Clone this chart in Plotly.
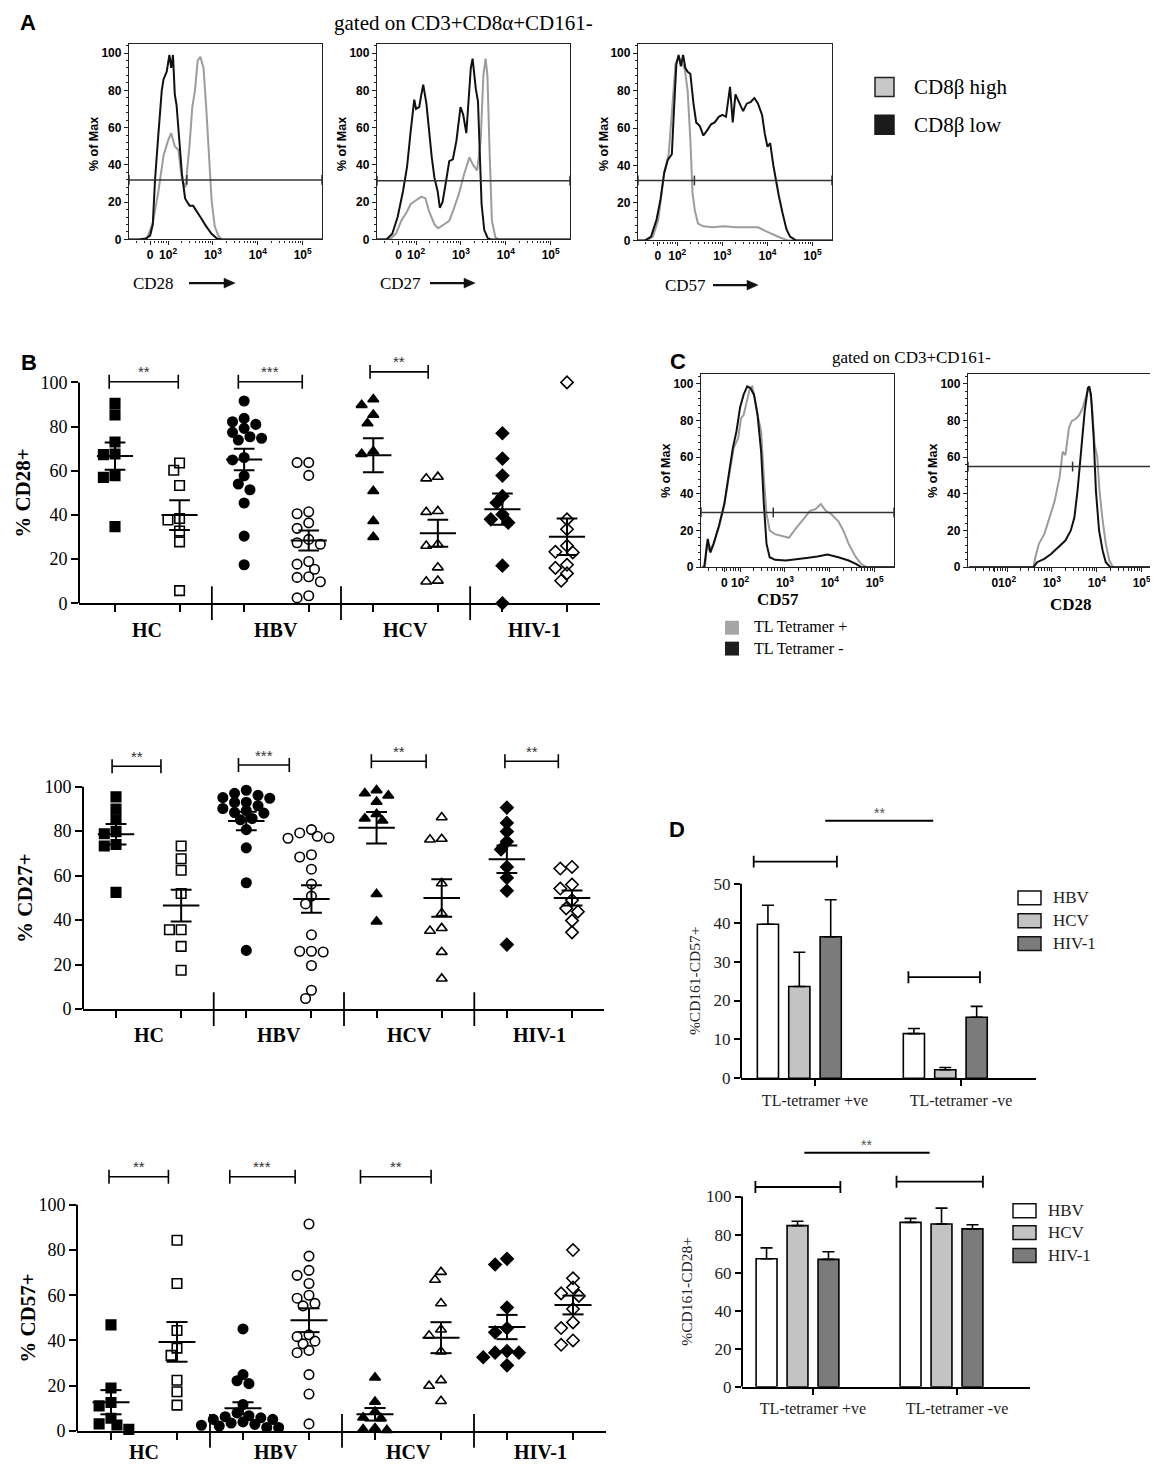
import numpy as np
import plotly.graph_objects as go

W, H = 1158, 1467
SERIF = "Liberation Serif"
SANS = "Liberation Sans"

# ---------------- Panel A / C : flow histograms ----------------
# x in display decades (10^2 -> 2, 10^3 -> 3 ...), y in % of max
cd28_high_x = [1.13, 1.45, 1.53, 1.66, 1.78, 1.90, 2.00, 2.07, 2.15, 2.23, 2.31, 2.39, 2.48, 2.54, 2.60,
               2.66, 2.72, 2.79, 2.85, 2.91, 2.97, 3.04, 3.12, 3.20, 5.43]
cd28_high_y = [0, 0, 0.5, 9, 25, 45, 53, 57, 50, 48, 32, 28, 51, 71, 80, 96, 98, 92, 71, 48, 21, 7, 2, 0, 0]
cd28_low_x = [1.13, 1.35, 1.50, 1.60, 1.66, 1.71, 1.78, 1.86, 1.90, 1.97, 2.03, 2.07, 2.11, 2.15, 2.19,
              2.25, 2.31, 2.38, 2.48, 2.56, 2.62, 2.72, 2.85, 2.97, 3.09, 3.18, 5.43]
cd28_low_y = [0, 0, 0.5, 2, 8, 32, 55, 80, 86, 90, 99, 92, 99, 78, 72, 55, 35, 22, 18, 18, 16, 12, 7, 3,
              0.5, 0, 0]

cd27_high_x = [1.13, 1.43, 1.55, 1.67, 1.80, 1.88, 2.00, 2.12, 2.21, 2.29, 2.41, 2.49, 2.62, 2.74, 2.82,
               2.95, 3.07, 3.19, 3.27, 3.36, 3.44, 3.50, 3.55, 3.59, 3.64, 3.69, 3.77, 3.85, 5.43]
cd27_high_y = [0, 0.5, 3, 10, 15, 19, 21, 23, 22, 15, 8, 6, 8, 10, 15, 24, 35, 44, 40, 37, 53, 88, 97, 88,
               46, 10, 1, 0, 0]
cd27_low_x = [1.13, 1.34, 1.47, 1.59, 1.71, 1.80, 1.88, 1.96, 2.00, 2.07, 2.12, 2.16, 2.23, 2.29, 2.35,
              2.41, 2.48, 2.53, 2.59, 2.66, 2.74, 2.82, 2.90, 2.99, 3.05, 3.12, 3.17, 3.22, 3.26, 3.30,
              3.33, 3.38, 3.42, 3.46, 3.52, 3.60, 3.68, 5.43]
cd27_low_y = [0, 0, 3, 12, 26, 39, 58, 75, 70, 71, 78, 83, 73, 57, 44, 33, 26, 17, 20, 30, 42, 43, 53, 71,
              67, 57, 76, 92, 97, 88, 81, 74, 46, 19, 5, 0.5, 0, 0]

cd57_high_x = [1.13, 1.33, 1.46, 1.58, 1.71, 1.81, 1.89, 1.96, 2.03, 2.09, 2.17, 2.23, 2.29, 2.34, 2.39,
               2.46, 2.58, 2.79, 3.04, 3.29, 3.54, 3.79, 3.96, 4.13, 4.29, 4.46, 5.43]
cd57_high_y = [0, 0, 2, 11, 36, 46, 71, 94, 98, 96, 91, 80, 54, 25, 16, 9, 7.5, 7, 7.5, 7, 7, 7, 5, 3, 1.4,
               0, 0]
cd57_low_x = [1.13, 1.29, 1.42, 1.54, 1.63, 1.71, 1.79, 1.88, 1.93, 1.98, 2.03, 2.08, 2.13, 2.18, 2.23,
              2.29, 2.36, 2.42, 2.50, 2.58, 2.67, 2.75, 2.83, 2.92, 3.00, 3.08, 3.17, 3.23, 3.29, 3.38,
              3.46, 3.54, 3.63, 3.71, 3.79, 3.88, 3.94, 4.00, 4.06, 4.13, 4.19, 4.25, 4.33, 4.42, 4.50,
              4.63, 5.43]
cd57_low_y = [0, 0, 2, 11, 22, 36, 43, 46, 71, 94, 99, 93, 99, 92, 90, 89, 73, 63, 61, 56, 59, 62, 63, 66,
              67, 66, 82, 63, 78, 73, 69, 73, 74, 76, 73, 67, 57, 50, 52, 40, 31, 24, 15, 6, 2, 0, 0]

tl_cd57_pos_x = [1.16, 1.22, 1.26, 1.31, 1.41, 1.53, 1.65, 1.77, 1.86, 1.96, 2.02, 2.08, 2.16, 2.22, 2.27,
                 2.33, 2.39, 2.47, 2.53, 2.59, 2.66, 2.78, 2.94, 3.09, 3.21, 3.33, 3.45, 3.56, 3.68, 3.80,
                 3.91, 4.03, 4.19, 4.30, 4.42, 4.58, 4.70, 4.81, 5.43]
tl_cd57_pos_y = [0, 0, 12.7, 9, 12.7, 21.7, 34.4, 50.6, 65, 70.5, 81, 83, 92, 97.6, 98.5, 92, 83, 74, 48.8,
                 29, 20, 18, 17, 16, 20, 23.5, 27, 30.7, 31.6, 34.4, 30.7, 29, 25, 20, 12.7, 5.4, 1.8, 0, 0]
tl_cd57_neg_x = [1.16, 1.20, 1.23, 1.28, 1.34, 1.41, 1.53, 1.65, 1.77, 1.84, 1.92, 2.00, 2.08, 2.16, 2.23,
                 2.31, 2.39, 2.47, 2.53, 2.59, 2.66, 2.78, 3.02, 3.25, 3.48, 3.72, 3.95, 4.19, 4.42, 4.58,
                 4.70, 5.43]
tl_cd57_neg_y = [0, 0, 5.4, 15.4, 8, 12.7, 22.6, 34.4, 54, 65, 74, 87, 94, 98.5, 97.6, 94, 83, 63, 34.4,
                 12.7, 5.4, 4, 3.6, 4.5, 5, 5.8, 6.9, 5.4, 3.6, 1.8, 0, 0]

tl_cd28_pos_x = [1.15, 2.59, 2.63, 2.71, 2.83, 2.94, 3.06, 3.17, 3.24, 3.30, 3.38, 3.44, 3.54, 3.61, 3.69,
                 3.77, 3.83, 3.89, 3.95, 4.01, 4.06, 4.13, 4.20, 4.28, 4.36, 5.43]
tl_cd28_pos_y = [0, 0, 5.4, 12.7, 18, 27, 36, 49, 63, 61, 76, 79.6, 81, 83, 87, 94, 98.5, 88.6, 67, 60,
                 41.6, 25.3, 12.7, 3.6, 0, 0]
tl_cd28_neg_x = [1.15, 2.59, 2.67, 2.83, 2.98, 3.14, 3.30, 3.42, 3.50, 3.57, 3.65, 3.73, 3.80, 3.83, 3.87,
                 3.93, 3.98, 4.05, 4.13, 4.20, 4.30, 5.43]
tl_cd28_neg_y = [0, 0, 2.7, 4.5, 7.2, 10.8, 14.5, 20, 27, 41.6, 63, 85, 97.6, 98.5, 94, 70.5, 41.6, 20, 9,
                 2.7, 0, 0]

gate_levels = [31.9, 31.5, 32.0, 29.8, 54.8]
gate_marks = [[2.42], [], [2.38], [2.74], [3.46]]
decade_labels = ["0", "10<sup>2</sup>", "10<sup>3</sup>", "10<sup>4</sup>", "10<sup>5</sup>"]

# ---------------- Panel B : dot plots ----------------
groups = ["HC", "HBV", "HCV", "HIV-1"]

cd28_hc_hi = [90.5, 85.3, 73.0, 67.3, 67.6, 57.8, 57.0, 34.7]
cd28_hc_lo = [63.5, 60.2, 53.3, 37.7, 38.4, 32.7, 27.8, 5.7]
cd28_hbv_hi = [91.6, 83.7, 82.2, 81.0, 79.2, 77.4, 74.7, 73.9, 75.4, 64.9, 66.0, 57.7, 54.0, 51.4, 45.4,
               30.4, 17.4]
cd28_hbv_lo = [63.7, 63.7, 57.9, 41.4, 40.5, 36.4, 33.9, 27.4, 26.7, 28.9, 17.7, 18.9, 15.4, 11.7, 12.0,
               9.7, 3.4, 2.4]
cd28_hcv_hi = [92.3, 89.8, 85.3, 81.5, 68.8, 67.6, 50.8, 37.2, 30.0]
cd28_hcv_lo = [56.5, 57.2, 41.7, 41.3, 26.0, 26.7, 16.2, 9.8, 10.2]
cd28_hiv_hi = [77.0, 65.5, 57.8, 48.5, 45.5, 40.2, 36.5, 38.0, 17.0, 0.0]
cd28_hiv_lo = [100.0, 38.0, 33.5, 26.0, 23.0, 23.3, 16.0, 17.4, 13.5, 10.2]

cd27_hc_hi = [95.4, 89.9, 85.1, 79.8, 78.8, 74.0, 73.3, 52.5]
cd27_hc_lo = [73.3, 67.6, 62.4, 52.0, 35.7, 35.7, 28.2, 17.5]
cd27_hbv_hi = [98.4, 97.0, 96.1, 95.1, 94.8, 93.0, 92.9, 91.4, 90.2, 89.2, 88.4, 88.1, 85.7, 85.1, 80.7,
               72.5, 56.8, 26.4]
cd27_hbv_lo = [80.7, 79.2, 77.7, 76.8, 77.0, 69.4, 68.4, 62.9, 56.2, 50.8, 47.3, 33.4, 25.7, 26.0, 26.0,
               19.6, 8.5, 4.8]
cd27_hcv_hi = [98.4, 97.0, 96.0, 93.2, 87.7, 85.7, 84.7, 51.7, 39.4]
cd27_hcv_lo = [86.2, 76.5, 76.2, 56.5, 43.1, 35.2, 36.4, 25.7, 13.7]
cd27_hiv_hi = [90.6, 83.7, 79.8, 75.3, 71.8, 63.9, 59.0, 53.2, 29.0]
cd27_hiv_lo = [63.9, 63.2, 56.0, 54.2, 49.0, 45.3, 43.8, 39.8, 34.5]

cd57_hc_hi = [46.9, 19.0, 12.6, 11.1, 5.6, 3.1, 2.6, 0.7]
cd57_hc_lo = [84.3, 65.2, 44.4, 36.6, 33.4, 22.4, 17.3, 11.4]
cd57_hbv_hi = [45.1, 24.9, 22.2, 20.9, 11.7, 8.0, 6.3, 5.8, 5.1, 5.1, 4.0, 2.9, 2.5, 2.2, 1.5, 1.5, 3.5, 6.7]
cd57_hbv_lo = [91.5, 77.3, 71.0, 68.8, 65.2, 60.0, 58.7, 56.4, 55.3, 39.7, 41.7, 42.5, 38.5, 35.6, 34.6,
               24.9, 16.3, 3.1]
cd57_hcv_hi = [23.6, 12.9, 8.5, 5.9, 5.6, 1.2, 0.4, 0.7]
cd57_hcv_lo = [70.3, 66.8, 56.4, 44.8, 42.2, 35.1, 22.4, 19.9, 13.2]
cd57_hiv_hi = [76.1, 73.6, 54.6, 45.4, 43.6, 34.6, 34.6, 35.3, 32.6, 29.0]
cd57_hiv_lo = [80.0, 67.5, 63.4, 60.8, 59.7, 53.9, 48.0, 45.5, 40.0, 38.1]

cd28_sig = [(0.91, 1.98, 100.3, "**"), (2.91, 3.90, 100.3, "***"), (4.95, 5.85, 104.8, "**")]
cd27_sig = [(0.94, 1.69, 109.2, "**"), (2.88, 3.66, 109.7, "***"), (4.92, 5.76, 111.4, "**"),
            (6.97, 7.79, 111.4, "**")]
cd57_sig = [(0.97, 1.87, 112.4, "**"), (2.80, 3.79, 112.4, "***"), (4.78, 5.85, 112.4, "**")]

# ---------------- Panel D : bars ----------------
tl_groups = ["TL-tetramer +ve", "TL-tetramer -ve"]
viruses = ["HBV", "HCV", "HIV-1"]
cd57_hbv = [39.6, 11.5]
cd57_hbv_err = [4.9, 1.3]
cd57_hcv = [23.6, 2.2]
cd57_hcv_err = [8.8, 0.6]
cd57_hiv = [36.4, 15.7]
cd57_hiv_err = [9.5, 2.8]
cd28_hbv = [67.3, 86.4]
cd28_hbv_err = [5.7, 2.1]
cd28_hcv = [84.7, 85.6]
cd28_hcv_err = [2.3, 8.3]
cd28_hiv = [67.0, 83.0]
cd28_hiv_err = [4.0, 2.2]

d1_sig = [(0.07, 0.81, 66.2, "**", False), (-0.42, 0.15, 55.7, "", True), (0.64, 1.13, 26.0, "", True)]
d2_sig = [(-0.06, 0.81, 123.0, "**", False), (-0.40, 0.19, 105.0, "", True), (0.58, 1.18, 107.8, "", True)]

# ======================================================================
fig = go.Figure()
layout = dict(width=W, height=H, margin=dict(l=0, r=0, t=0, b=0), paper_bgcolor="white",
              plot_bgcolor="white", showlegend=False, barmode="overlay", hovermode=False)
shapes = []
annos = []


def px(x):
    return x / W


def py(y):
    return 1 - y / H


def ids(n):
    return ("x" if n == 1 else f"x{n}"), ("y" if n == 1 else f"y{n}")


def akey(n):
    return ("xaxis" if n == 1 else f"xaxis{n}"), ("yaxis" if n == 1 else f"yaxis{n}")


def label(x, y, s, size, family=SERIF, color="black", angle=0, xanchor="center", weight="normal"):
    annos.append(dict(x=px(x), y=py(y), xref="paper", yref="paper", text=s, showarrow=False,
                      textangle=angle, xanchor=xanchor, yanchor="middle",
                      font=dict(family=family, size=size, color=color, weight=weight)))


def swatch(x0, y0, x1, y1, fill, line=None):
    shapes.append(dict(type="rect", xref="paper", yref="paper", x0=px(x0), x1=px(x1), y0=py(y1), y1=py(y0),
                       fillcolor=fill, line=dict(color=line or fill, width=1.5 if line else 0)))


def arrow(x0, x1, y):
    # shaft plus a filled head, in page pixels
    shapes.append(dict(type="line", xref="paper", yref="paper", x0=px(x0), x1=px(x1 - 9), y0=py(y), y1=py(y),
                       line=dict(color="#111", width=2.4)))
    path = f"M {px(x1)} {py(y)} L {px(x1 - 11)} {py(y - 5)} L {px(x1 - 11)} {py(y + 5)} Z"
    shapes.append(dict(type="path", xref="paper", yref="paper", path=path, fillcolor="#111",
                       line=dict(color="#111", width=0.5)))


XR = [1.13, 5.43]
minor_log = [d + np.log10(k) for d in range(1, 5) for k in range(2, 10)]
TICKF = dict(family=SANS, size=12, color="black", weight="bold")


def hist_panel(n, box, zero_pos, gray, black, gate, marks):
    left, right, top, bottom = box
    xk, yk = akey(n)
    xi, yi = ids(n)
    common = dict(showline=True, mirror=True, linecolor="#222", linewidth=1.3, ticks="outside", ticklen=4,
                  tickwidth=1.2, tickcolor="#222", tickfont=TICKF, tickangle=0, showgrid=False,
                  zeroline=False)
    layout[xk] = dict(domain=[px(left), px(right)], range=XR, anchor=yi, tickvals=[zero_pos, 2, 3, 4, 5],
                      ticktext=decade_labels,
                      minor=dict(tickvals=minor_log, ticks="outside", ticklen=2.5, tickwidth=1, tickcolor="#222"),
                      **common)
    layout[yk] = dict(domain=[py(bottom), py(top)], range=[0, 105], anchor=xi, tickvals=[0, 20, 40, 60, 80, 100],
                      minor=dict(dtick=4, tick0=0, ticks="outside", ticklen=2, tickwidth=1, tickcolor="#222"),
                      **common)
    fig.add_trace(go.Scatter(x=gray[0], y=gray[1], mode="lines", line=dict(color="#9c9c9c", width=2),
                             xaxis=xi, yaxis=yi))
    fig.add_trace(go.Scatter(x=black[0], y=black[1], mode="lines", line=dict(color="#111", width=2),
                             xaxis=xi, yaxis=yi))
    gx = [XR[0]] + marks + [XR[1]]
    fig.add_trace(go.Scatter(x=gx, y=[gate] * len(gx), mode="lines+markers", cliponaxis=False,
                             line=dict(color="#333", width=1.5),
                             marker=dict(symbol="line-ns", size=7, line=dict(width=1.5, color="#333")),
                             xaxis=xi, yaxis=yi))


hist_panel(1, (121, 314, 36, 233), 1.6, (cd28_high_x, cd28_high_y), (cd28_low_x, cd28_low_y),
           gate_levels[0], gate_marks[0])
hist_panel(2, (369, 562, 36, 233), 1.61, (cd27_high_x, cd27_high_y), (cd27_low_x, cd27_low_y),
           gate_levels[1], gate_marks[1])
hist_panel(3, (630, 824, 36, 234), 1.57, (cd57_high_x, cd57_high_y), (cd57_low_x, cd57_low_y),
           gate_levels[2], gate_marks[2])
hist_panel(4, (693, 886, 369, 563), 1.65, (tl_cd57_pos_x, tl_cd57_pos_y), (tl_cd57_neg_x, tl_cd57_neg_y),
           gate_levels[3], gate_marks[3])
hist_panel(5, (960, 1153, 369, 563), 1.73, (tl_cd28_pos_x, tl_cd28_pos_y), (tl_cd28_neg_x, tl_cd28_neg_y),
           gate_levels[4], gate_marks[4])

for xc in (86, 334, 596):
    label(xc, 137, "% of Max", 12.5, SANS, weight="bold", angle=-90)
for xc in (658, 925):
    label(xc, 466, "% of Max", 12.5, SANS, weight="bold", angle=-90)

for name, cx, ax0, ax1, yy in (("CD28", 145, 181, 227, 277), ("CD27", 392, 422, 467, 277),
                               ("CD57", 677, 705, 750, 279)):
    label(cx, yy, name, 17)
    arrow(ax0, ax1, yy)

label(770, 596, "CD57", 17, weight="bold")
label(1063, 601, "CD28", 17, weight="bold")

label(455, 15, "gated on CD3+CD8\u03b1+CD161-", 21)
label(903, 352, "gated on CD3+CD161-", 17)

swatch(867, 70, 886, 89, "#c8c8c8", "#222")
swatch(867, 108, 886, 127, "#1b1b1b", "#1b1b1b")
label(904, 80, "CD8\u03b2 high", 21, xanchor="left")
label(904, 118, "CD8\u03b2 low", 21, xanchor="left")

swatch(717, 617, 731, 631, "#a6a6a6")
swatch(717, 638, 731, 652, "#1e1e1e")
label(744, 623, "TL Tetramer +", 16, xanchor="left")
label(744, 645, "TL Tetramer -", 16, xanchor="left")

# ---------------- dot plots ----------------
symbols = ["square", "square-open", "circle", "circle-open", "triangle-up", "triangle-up-open",
           "diamond", "diamond-open"]


def swarm(vals, center, sx, sy, dmin=8.5, step=0.09):
    vals = np.asarray(vals, float)
    xs = np.empty(len(vals))
    placed = []
    for i in np.argsort(-vals, kind="stable"):
        k, hit = 0, None
        while hit is None:
            for c in ([0] if k == 0 else [-k, k]):
                x = center + c * step
                if all(((x - qx) * sx) ** 2 + ((vals[i] - qy) * sy) ** 2 >= dmin ** 2 for qx, qy in placed):
                    hit = x
                    break
            k += 1
        xs[i] = hit
        placed.append((hit, vals[i]))
    return xs


def dot_panel(n, left, right, xr, zero, unit, ytop, series, sig, title, title_x, lab_dy):
    xk, yk = akey(n)
    xi, yi = ids(n)
    top = zero - ytop * unit
    layout[xk] = dict(domain=[px(left), px(right)], range=xr, anchor=yi, showline=True, linewidth=2,
                      linecolor="black", ticks="outside", ticklen=7, tickwidth=2, tickcolor="black",
                      tickvals=list(range(1, 9)), showticklabels=False, showgrid=False, zeroline=False)
    layout[yk] = dict(domain=[py(zero), py(top)], range=[0, ytop], anchor=xi, showline=False, ticks="outside",
                      ticklen=7, tickwidth=2, tickcolor="black", tickvals=[0, 20, 40, 60, 80, 100],
                      tickfont=dict(family=SERIF, size=18, color="black"), showgrid=False, zeroline=False)
    shapes.append(dict(type="line", xref="paper", yref=yi, x0=px(left), x1=px(left), y0=0, y1=100,
                       line=dict(color="black", width=2)))
    sx = (right - left) / (xr[1] - xr[0])
    for g in range(3):
        shapes.append(dict(type="line", xref=xi, yref="paper", x0=2 * g + 2.5, x1=2 * g + 2.5,
                           y0=py(zero + 17), y1=py(zero - 17), line=dict(color="black", width=1.8)))
    for g, name in enumerate(groups):
        annos.append(dict(x=2 * g + 1.5, y=py(zero + lab_dy), xref=xi, yref="paper", text=f"<b>{name}</b>",
                          showarrow=False, yanchor="middle", xanchor="center",
                          font=dict(family=SERIF, size=20, color="black")))
    for i, vals in enumerate(series):
        pos = i + 1
        xs = swarm(vals, pos, sx, unit)
        fig.add_trace(go.Scatter(x=xs, y=vals, mode="markers", xaxis=xi, yaxis=yi, cliponaxis=False,
                                 marker=dict(symbol=symbols[i], size=9.5, color="black",
                                             line=dict(color="black", width=1.6))))
        m = float(np.mean(vals))
        s = float(np.std(vals, ddof=1) / np.sqrt(len(vals)))
        lx = [pos - 0.28, pos + 0.28, None, pos, pos, None, pos - 0.16, pos + 0.16, None, pos - 0.16, pos + 0.16]
        ly = [m, m, None, m - s, m + s, None, m + s, m + s, None, m - s, m - s]
        fig.add_trace(go.Scatter(x=lx, y=ly, mode="lines", line=dict(color="black", width=2),
                                 xaxis=xi, yaxis=yi))
    e = 7 / unit
    for x0, x1, yb, txt in sig:
        fig.add_trace(go.Scatter(x=[x0, x0, None, x0, x1, None, x1, x1], y=[yb - e, yb + e, None, yb, yb, None,
                                                                          yb - e, yb + e],
                                 mode="lines", line=dict(color="black", width=1.6), xaxis=xi, yaxis=yi))
        annos.append(dict(x=(x0 + x1) / 2, y=yb + 10 / unit, xref=xi, yref=yi, text=txt, showarrow=False,
                          yanchor="middle", xanchor="center", font=dict(family=SANS, size=15, color="#333")))
    label(title_x, zero - 50 * unit, f"<b>{title}</b>", 21, angle=-90)


dot_panel(6, 71, 592, [0.4425, 8.511], 599.3, 2.223, 118,
          [cd28_hc_hi, cd28_hc_lo, cd28_hbv_hi, cd28_hbv_lo, cd28_hcv_hi, cd28_hcv_lo, cd28_hiv_hi, cd28_hiv_lo],
          cd28_sig, "% CD28+", 15, 27)
dot_panel(7, 75, 596, [0.4934, 8.491], 1008.0, 2.24, 122,
          [cd27_hc_hi, cd27_hc_lo, cd27_hbv_hi, cd27_hbv_lo, cd27_hcv_hi, cd27_hcv_lo, cd27_hiv_hi, cd27_hiv_lo],
          cd27_sig, "% CD27+", 17, 26)
dot_panel(8, 69, 598, [0.485, 8.5], 1432.7, 2.277, 122,
          [cd57_hc_hi, cd57_hc_lo, cd57_hbv_hi, cd57_hbv_lo, cd57_hcv_hi, cd57_hcv_lo, cd57_hiv_hi, cd57_hiv_lo],
          cd57_sig, "% CD57+", 20, 21)

# ---------------- bar charts ----------------
bar_colors = ["white", "#c3c3c3", "#7b7b7b"]
SLOT, BW = 0.215, 0.145


def bar_panel(n, left, right, xr, zero, unit, ytop, ymax, ystep, means, errs, sig, title, title_x, leg):
    xk, yk = akey(n)
    xi, yi = ids(n)
    top = zero - ytop * unit
    layout[xk] = dict(domain=[px(left), px(right)], range=xr, anchor=yi, showline=True, linewidth=2,
                      linecolor="black", ticks="outside", ticklen=6, tickwidth=2, tickcolor="black",
                      tickvals=[0, 1], ticktext=tl_groups, tickfont=dict(family=SERIF, size=16, color="#222"),
                      tickangle=0, showgrid=False, zeroline=False)
    layout[yk] = dict(domain=[py(zero), py(top)], range=[0, ytop], anchor=xi, showline=False, ticks="outside",
                      ticklen=6, tickwidth=2, tickcolor="black", tickvals=list(range(0, ymax + 1, ystep)),
                      tickfont=dict(family=SERIF, size=17, color="#222"), showgrid=False, zeroline=False)
    shapes.append(dict(type="line", xref="paper", yref=yi, x0=px(left), x1=px(left), y0=0, y1=ymax,
                       line=dict(color="black", width=2)))
    for i, (m, e) in enumerate(zip(means, errs)):
        fig.add_trace(go.Bar(x=[0, 1], y=m, width=BW, offset=(i - 1.5) * SLOT - BW / 2, xaxis=xi, yaxis=yi,
                             marker=dict(color=bar_colors[i], line=dict(color="black", width=1.6)),
                             error_y=dict(type="data", symmetric=False, array=e, arrayminus=[0, 0],
                                          color="black", thickness=1.6, width=6)))
    e = 6 / unit
    for x0, x1, yb, txt, ends in sig:
        xs = [x0, x1]
        ys = [yb, yb]
        if ends:
            xs = [x0, x0, None, x0, x1, None, x1, x1]
            ys = [yb - e, yb + e, None, yb, yb, None, yb - e, yb + e]
        fig.add_trace(go.Scatter(x=xs, y=ys, mode="lines", line=dict(color="black", width=1.8),
                                 xaxis=xi, yaxis=yi))
        if txt:
            annos.append(dict(x=(x0 + x1) / 2, y=yb + 8 / unit, xref=xi, yref=yi, text=txt, showarrow=False,
                              yanchor="middle", xanchor="center", font=dict(family=SANS, size=14, color="#555")))
    label(title_x, zero - ymax / 2 * unit, title, 15.5, color="#222", angle=-90)
    lx0, lx1, tx, rows = leg
    for i, (name, yy) in enumerate(zip(viruses, rows)):
        swatch(lx0, yy - 7, lx1, yy + 7, bar_colors[i], "#111")
        label(tx, yy, name, 17, color="#222", xanchor="left")


bar_panel(9, 733, 1028, [-0.507, 1.514], 1077.7, 3.918, 70, 50, 10,
          [cd57_hbv, cd57_hcv, cd57_hiv], [cd57_hbv_err, cd57_hcv_err, cd57_hiv_err], d1_sig,
          "%CD161-CD57+", 686, (1010, 1033, 1043, [896, 919, 942]))
bar_panel(10, 734, 1022, [-0.493, 1.507], 1388.3, 1.916, 130, 100, 20,
          [cd28_hbv, cd28_hcv, cd28_hiv], [cd28_hbv_err, cd28_hcv_err, cd28_hiv_err], d2_sig,
          "%CD161-CD28+", 679, (1005, 1028, 1038, [1211, 1233, 1256]))

for letter, x, y in (("A", 20, 15), ("B", 21, 357), ("C", 670, 356), ("D", 669, 827)):
    label(x, y, letter, 22, SANS, weight="bold")

layout["shapes"] = shapes
layout["annotations"] = annos
fig.update_layout(**layout)
fig.update_traces(hoverinfo="skip")
fig.write_html("out.html")
